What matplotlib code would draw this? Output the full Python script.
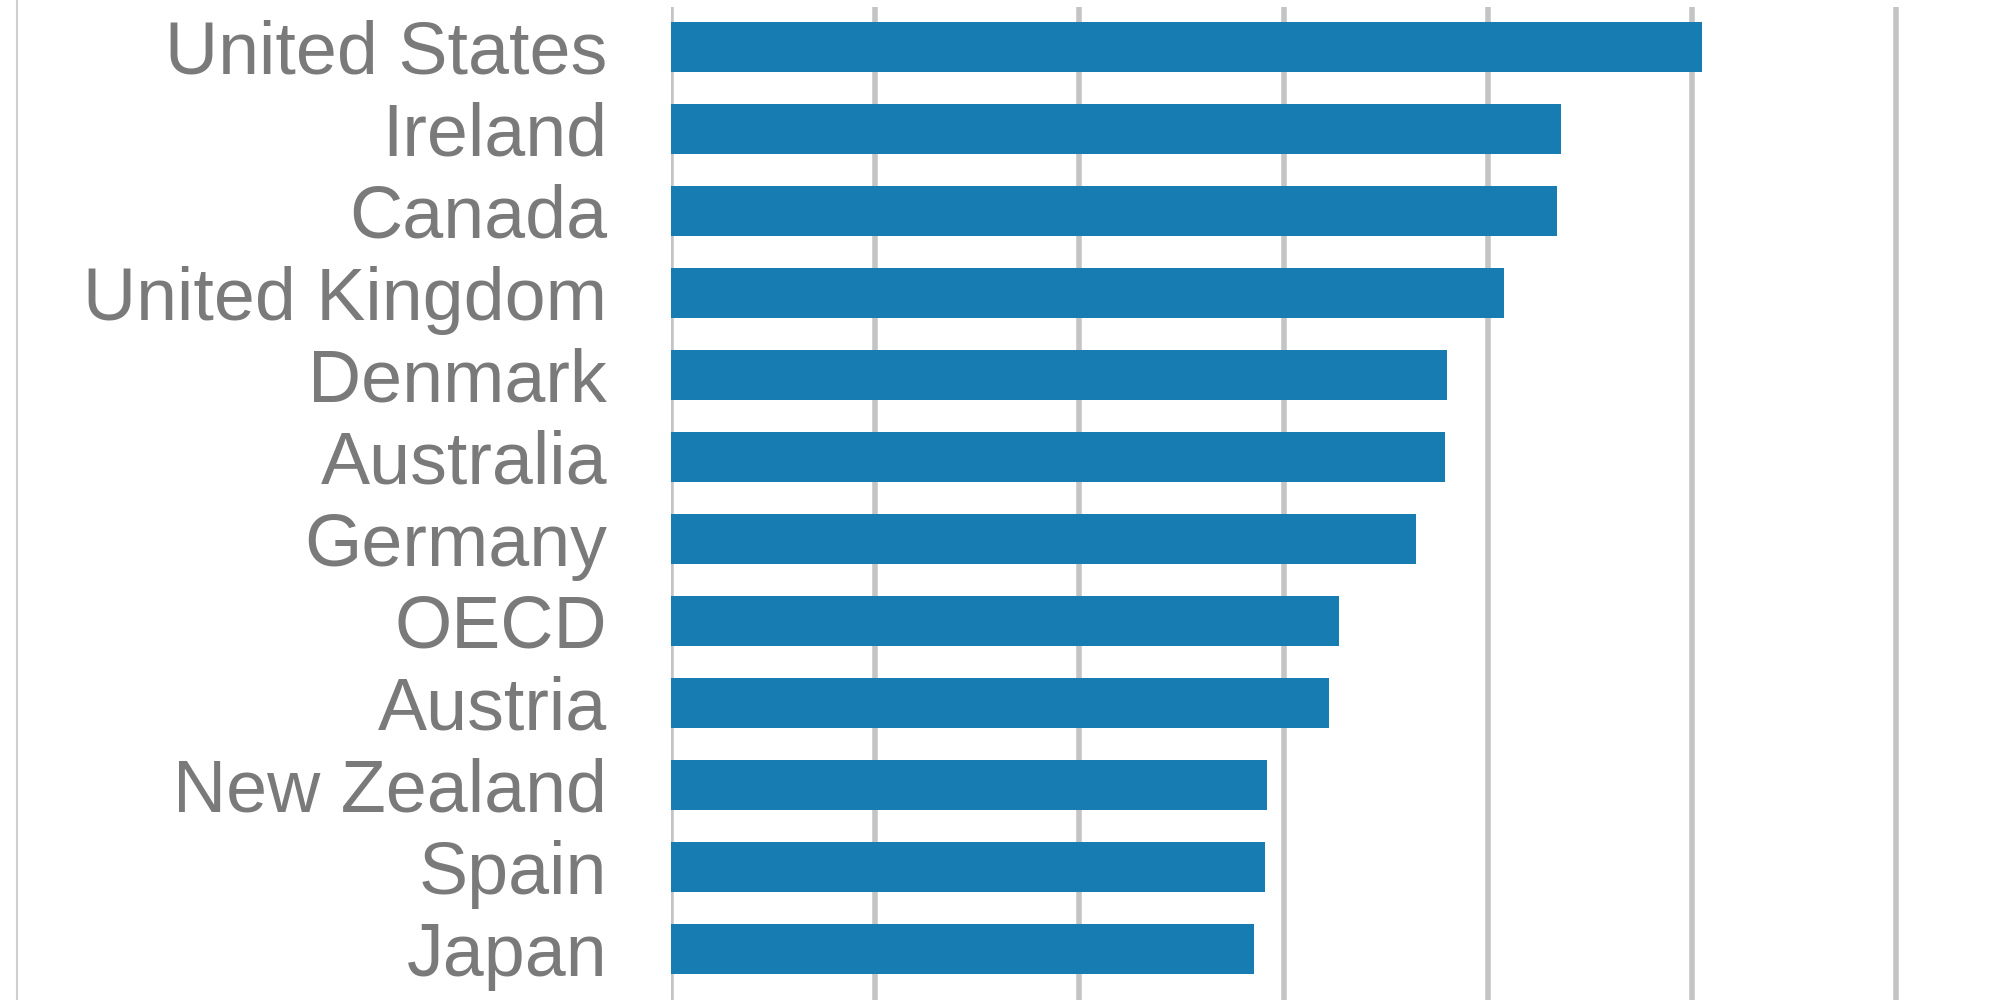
import matplotlib
matplotlib.use("Agg")
import matplotlib.pyplot as plt
from matplotlib.lines import Line2D

countries = ["United States", "Ireland", "Canada", "United Kingdom", "Denmark",
             "Australia", "Germany", "OECD", "Austria", "New Zealand", "Spain", "Japan"]
values = [5.05, 4.36, 4.34, 4.08, 3.80, 3.79, 3.65, 3.27, 3.22, 2.92, 2.91, 2.855]
grid_ticks = [0, 1, 2, 3, 4, 5, 6]

W, H = 2000, 1000
fig = plt.figure(figsize=(20, 10), dpi=100)
fig.patch.set_facecolor("white")

x0 = 671
unit = 204.2
top_px = 7
first_center = 47
step = 82

ax = fig.add_axes([x0 / W, 0, 1 - x0 / W, 1 - top_px / H])
ypos = list(range(len(countries)))
ax.barh(ypos, values, height=0.61, color="#177cb2", zorder=3)

ax.set_xlim(0, (W - x0) / unit)
ax.set_ylim((H - first_center) / step, -(first_center - top_px) / step)
ax.set_xticks(grid_ticks)
ax.set_xticklabels([])
ax.tick_params(axis="x", length=0)
ax.grid(axis="x", color="#c4c4c4", linewidth=4.0, zorder=0)
ax.set_axisbelow(True)
ax.set_yticks(ypos)
ax.set_yticklabels(countries, fontsize=53, color="#7a7a7a", family="Liberation Sans")
ax.tick_params(axis="y", length=0, pad=46)
for s in ax.spines.values():
    s.set_visible(False)

fig.add_artist(Line2D([17 / W, 17 / W], [0, 1], transform=fig.transFigure,
                      color="#cfcfcf", linewidth=1.5))

fig.savefig("out.png", dpi=100, facecolor="white")
